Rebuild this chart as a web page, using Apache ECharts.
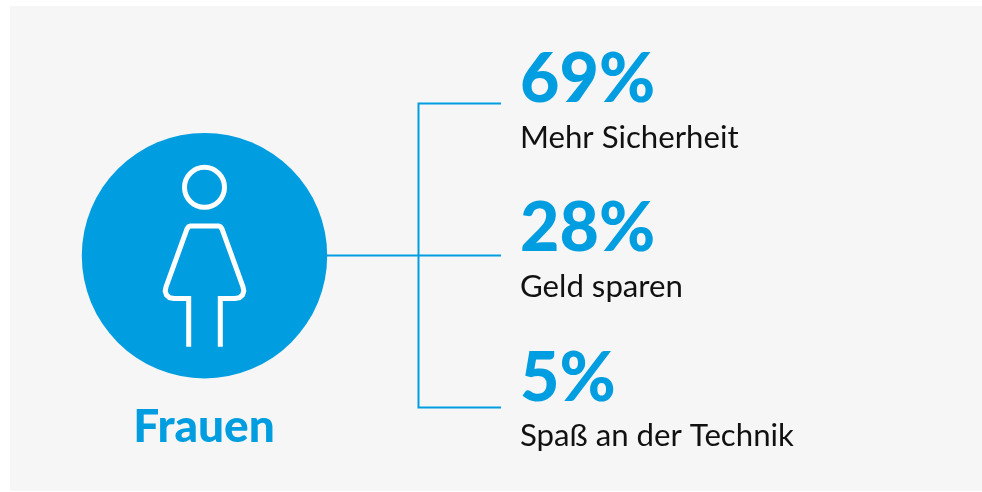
<!DOCTYPE html>
<html>
<head>
    <meta charset="utf-8">
    <title>Frauen</title>
    <script src="https://cdn.jsdelivr.net/npm/echarts@6/dist/echarts.min.js"></script>
    <style>
        html, body { margin: 0; padding: 0; background: #fff; }
        #main { width: 982px; height: 492px; }
    </style>
</head>
<body>
<div id="main"></div>
<script type="text/javascript">
    var groupName = 'Frauen';
    var categories = ['Mehr Sicherheit', 'Geld sparen', 'Spaß an der Technik'];
    var percentValues = [69, 28, 5];

    var blue = '#009ee0';
    var fontName = 'Lato, "Open Sans", sans-serif';

    // rows of the list, x is only an anchor
    var rowData = categories.map(function (name, i) {
        return { name: name, value: [0, name], percent: percentValues[i] };
    });

    var myChart = echarts.init(document.getElementById('main'), null, { renderer: 'canvas' });

    var option = {
        animation: false,
        backgroundColor: '#ffffff',
        // text rows are a bit tighter than the bracket: bands of about 149px
        grid: { left: 520, right: 20, top: 31.7, height: 447.6 },
        xAxis: { type: 'value', min: 0, max: 1, show: false },
        yAxis: { type: 'category', data: categories, inverse: true, show: false },
        graphic: [
            { type: 'rect', z: -10, shape: { x: 10, y: 6, width: 972, height: 485 }, style: { fill: '#f6f6f6' } },
            // bracket
            { type: 'line', shape: { x1: 327, y1: 255.5, x2: 501, y2: 255.5 }, style: { stroke: blue, lineWidth: 2 } },
            { type: 'polyline', shape: { points: [[501, 103.5], [418.5, 103.5], [418.5, 407.5], [501, 407.5]] }, style: { stroke: blue, lineWidth: 2, fill: null } },
            // person icon
            { type: 'circle', shape: { cx: 204.5, cy: 255.7, r: 122.7 }, style: { fill: blue } },
            { type: 'circle', shape: { cx: 204.5, cy: 187.3, r: 20 }, style: { stroke: '#fff', lineWidth: 5, fill: null } },
            {
                type: 'polyline',
                shape: {
                    points: [[188.7, 346.7], [188.7, 298.5], [174, 298.5], [169.5, 297.6], [166.5, 295], [165.2, 291], [166, 287],
                        [187, 229], [188.5, 226.8], [190.5, 226], [218.5, 226], [220.5, 226.8], [222, 229],
                        [243, 287], [243.8, 291], [242.5, 295], [239.5, 297.6], [235, 298.5], [220.3, 298.5], [220.3, 346.7]]
                },
                style: { stroke: '#fff', lineWidth: 5, fill: null }
            },
            {
                type: 'text', x: 204, y: 427,
                style: { text: groupName, fill: blue, font: '900 46px ' + fontName, align: 'center', verticalAlign: 'middle' }
            }
        ],
        series: [
            {
                type: 'scatter',
                symbolSize: 0,
                itemStyle: { opacity: 1 },
                data: rowData,
                silent: true,
                label: {
                    show: true,
                    opacity: 1,
                    position: [0, -26],
                    align: 'left',
                    verticalAlign: 'middle',
                    fontFamily: fontName,
                    fontWeight: 900,
                    fontSize: 68,
                    color: blue,
                    formatter: function (p) { return p.data.percent + '%'; }
                }
            },
            {
                type: 'scatter',
                symbolSize: 0,
                itemStyle: { opacity: 1 },
                data: rowData,
                silent: true,
                label: {
                    show: true,
                    opacity: 1,
                    position: [0, 31.5],
                    align: 'left',
                    verticalAlign: 'middle',
                    fontFamily: fontName,
                    fontSize: 31.2,
                    color: '#111111',
                    formatter: '{b}'
                }
            }
        ]
    };
    myChart.setOption(option);
</script>
</body>
</html>
